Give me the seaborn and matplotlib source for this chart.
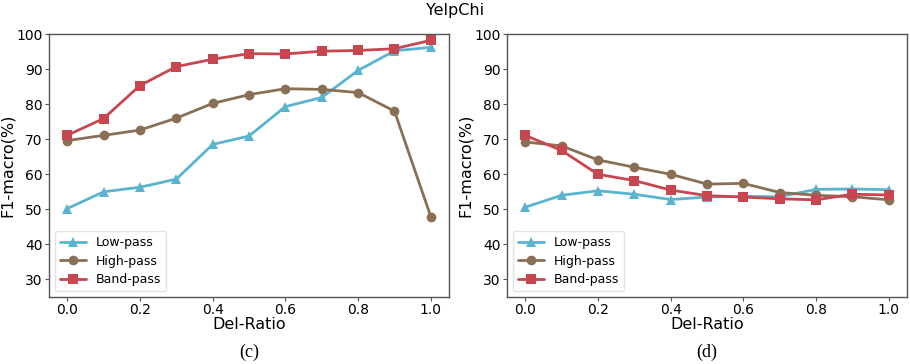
import seaborn as sns
import matplotlib.pyplot as plt
import pandas as pd

# Del-Ratio values on the x axis
ratios = [0.0, 0.1, 0.2, 0.3, 0.4, 0.5, 0.6, 0.7, 0.8, 0.9, 1.0]

# panel (c)
low_c = [50.2, 55.0, 56.3, 58.6, 68.5, 70.9, 79.3, 81.9, 89.6, 95.2, 96.2]
high_c = [69.6, 71.1, 72.6, 76.0, 80.2, 82.7, 84.4, 84.2, 83.3, 78.0, 47.9]
band_c = [71.1, 75.9, 85.3, 90.7, 92.8, 94.4, 94.3, 95.1, 95.3, 95.8, 98.2]

# panel (d)
low_d = [50.6, 54.0, 55.3, 54.3, 52.8, 53.5, 53.7, 53.6, 55.7, 55.8, 55.6]
high_d = [69.2, 68.1, 64.1, 62.0, 60.0, 57.2, 57.4, 54.8, 54.0, 53.6, 52.7]
band_d = [71.1, 66.8, 60.0, 58.2, 55.5, 53.9, 53.5, 53.0, 52.7, 54.3, 54.1]

filters = ["Low-pass", "High-pass", "Band-pass"]
palette = {"Low-pass": "#5ab4cf", "High-pass": "#8b6f55", "Band-pass": "#c8464f"}
markers = {"Low-pass": "^", "High-pass": "o", "Band-pass": "s"}


def to_frame(low, high, band):
    rows = []
    for name, vals in zip(filters, [low, high, band]):
        for r, v in zip(ratios, vals):
            rows.append({"Del-Ratio": r, "F1": v, "Filter": name})
    return pd.DataFrame(rows)


sns.set_style("white")
plt.rcParams["font.family"] = ["DejaVu Sans"]
plt.rcParams["text.color"] = "black"
plt.rcParams["axes.labelcolor"] = "black"
plt.rcParams["xtick.color"] = "black"
plt.rcParams["ytick.color"] = "black"

fig = plt.figure(figsize=(9.1, 3.64), dpi=100)
ax1 = fig.add_axes([49 / 910, 1 - 297 / 364, 400 / 910, 263 / 364])
ax2 = fig.add_axes([507 / 910, 1 - 297 / 364, 400 / 910, 263 / 364])

for ax, data, tag, tx in [
    (ax1, to_frame(low_c, high_c, band_c), "(c)", 249),
    (ax2, to_frame(low_d, high_d, band_d), "(d)", 707),
]:
    sns.lineplot(
        data=data, x="Del-Ratio", y="F1", hue="Filter", style="Filter",
        hue_order=filters, style_order=filters, palette=palette,
        markers=markers, dashes=False, linewidth=2, markersize=7,
        markeredgewidth=0, ax=ax,
    )
    ax.set_ylim(25, 100)
    ax.set_xlim(-0.05, 1.05)
    ax.set_yticks([30, 40, 50, 60, 70, 80, 90, 100])
    ax.set_xticks([0.0, 0.2, 0.4, 0.6, 0.8, 1.0])
    ax.tick_params(axis="both", labelsize=10, length=3, pad=1.5,
                   direction="out", left=True, bottom=True,
                   color="#555555")
    ax.set_xlabel("Del-Ratio", fontsize=11.5, labelpad=0)
    ax.set_ylabel("F1-macro(%)", fontsize=11.5, labelpad=1)
    for sp in ax.spines.values():
        sp.set_color("#555555")
        sp.set_linewidth(1)
    leg = ax.legend(loc="lower left", fontsize=9, frameon=True,
                    handlelength=2.1, labelspacing=0.45,
                    borderaxespad=0.45)
    leg.get_frame().set_edgecolor("#dddddd")
    fig.text(tx / 910, 1 - 352 / 364, tag, ha="center", va="center",
             fontsize=13, family=["Liberation Serif"])

fig.text(0.5, 1 - 10 / 364, "YelpChi", ha="center", va="center", fontsize=11.5)

plt.savefig("out.png", dpi=100)
plt.close()
